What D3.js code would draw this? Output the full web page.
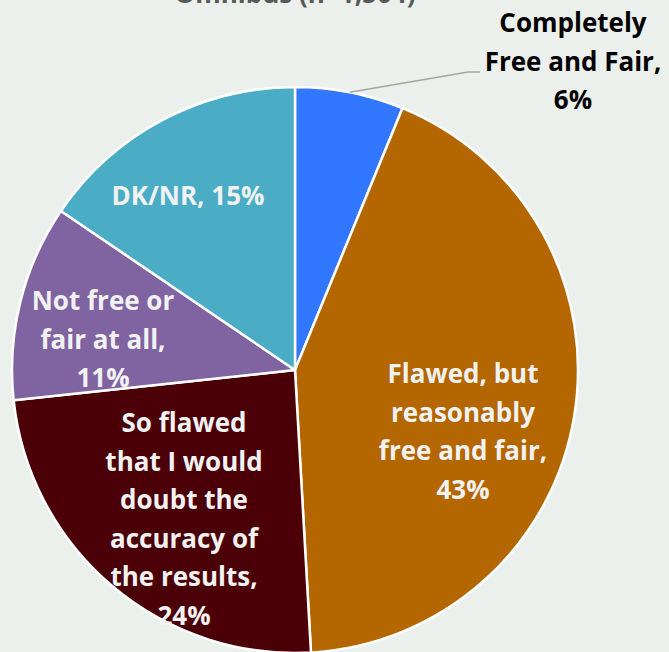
<!DOCTYPE html>
<html>
<head>
<meta charset="utf-8">
<script src="https://cdn.jsdelivr.net/npm/d3@7"></script>
<style>
  body { margin: 0; background: #EBF0EC; }
  svg { display: block; }
  text { font-family: "Open Sans", sans-serif; font-weight: bold; }
</style>
</head>
<body>
<div id="chart"></div>
<script>
// data (share of respondents, %)
var categories = ["Completely Free and Fair", "Flawed, but reasonably free and fair",
  "So flawed that I would doubt the accuracy of the results", "Not free or fair at all", "DK/NR"];
var values = [6.2, 42.9, 24.2, 11.2, 15.5];
var labelLines = [
  ["Completely", "Free and Fair,", "6%"],
  ["Flawed, but", "reasonably", "free and fair,", "43%"],
  ["So flawed", "that I would", "doubt the", "accuracy of", "the results,", "24%"],
  ["Not free or", "fair at all,", "11%"],
  ["DK/NR, 15%"]
];
var colors = ["#3277FF", "#B46600", "#4B0007", "#8064A2", "#4BACC6"];
var title = "Omnibus (n=1,504)";

var width = 669, height = 652;
var cx = 295, cy = 370, radius = 283;
var lineH = 38.6;

// label anchors relative to pie centre (first baseline)
var labelOffsets = [[278, -338], [168, 13], [-111, 62], [-192, -60], [-107, -165]];
var labelFill = ["#000", "#F2F2F2", "#F2F2F2", "#F2F2F2", "#F2F2F2"];

var svg = d3.select("#chart").append("svg")
  .attr("width", width)
  .attr("height", height);

svg.append("text")
  .attr("x", cx)
  .attr("y", 3)
  .attr("text-anchor", "middle")
  .attr("font-size", "26px")
  .attr("fill", "#595959")
  .text(title);

var g = svg.append("g")
  .attr("transform", "translate(" + cx + "," + cy + ")");

var pie = d3.pie().sort(null).value(function(d){ return d; });
var arc = d3.arc().innerRadius(0).outerRadius(radius);
var arcs = pie(values);

g.selectAll("path")
  .data(arcs)
  .enter()
  .append("path")
  .attr("d", arc)
  .attr("fill", function(d, i){ return colors[i]; })
  .attr("stroke", "#fff")
  .attr("stroke-width", 2.5)
  .attr("stroke-linejoin", "round");

// leader line for the small slice
var a0 = (arcs[0].startAngle + arcs[0].endAngle) / 2;
var p0 = [Math.sin(a0) * radius, -Math.cos(a0) * radius];
g.append("polyline")
  .attr("points", [p0, [173, -298], [185, -298]].map(function(p){ return p.join(","); }).join(" "))
  .attr("fill", "none")
  .attr("stroke", "#A6A6A6")
  .attr("stroke-width", 1.5);

var labels = g.selectAll(".label")
  .data(arcs)
  .enter()
  .append("text")
  .attr("class", "label")
  .attr("text-anchor", "middle")
  .attr("font-size", "26px")
  .attr("fill", function(d, i){ return labelFill[i]; })
  .attr("transform", function(d, i){ return "translate(" + labelOffsets[i][0] + "," + labelOffsets[i][1] + ")"; });

labels.selectAll("tspan")
  .data(function(d, i){ return labelLines[i]; })
  .enter()
  .append("tspan")
  .attr("x", 0)
  .attr("y", function(d, j){ return j * lineH; })
  .text(function(d){ return d; });
</script>
</body>
</html>
